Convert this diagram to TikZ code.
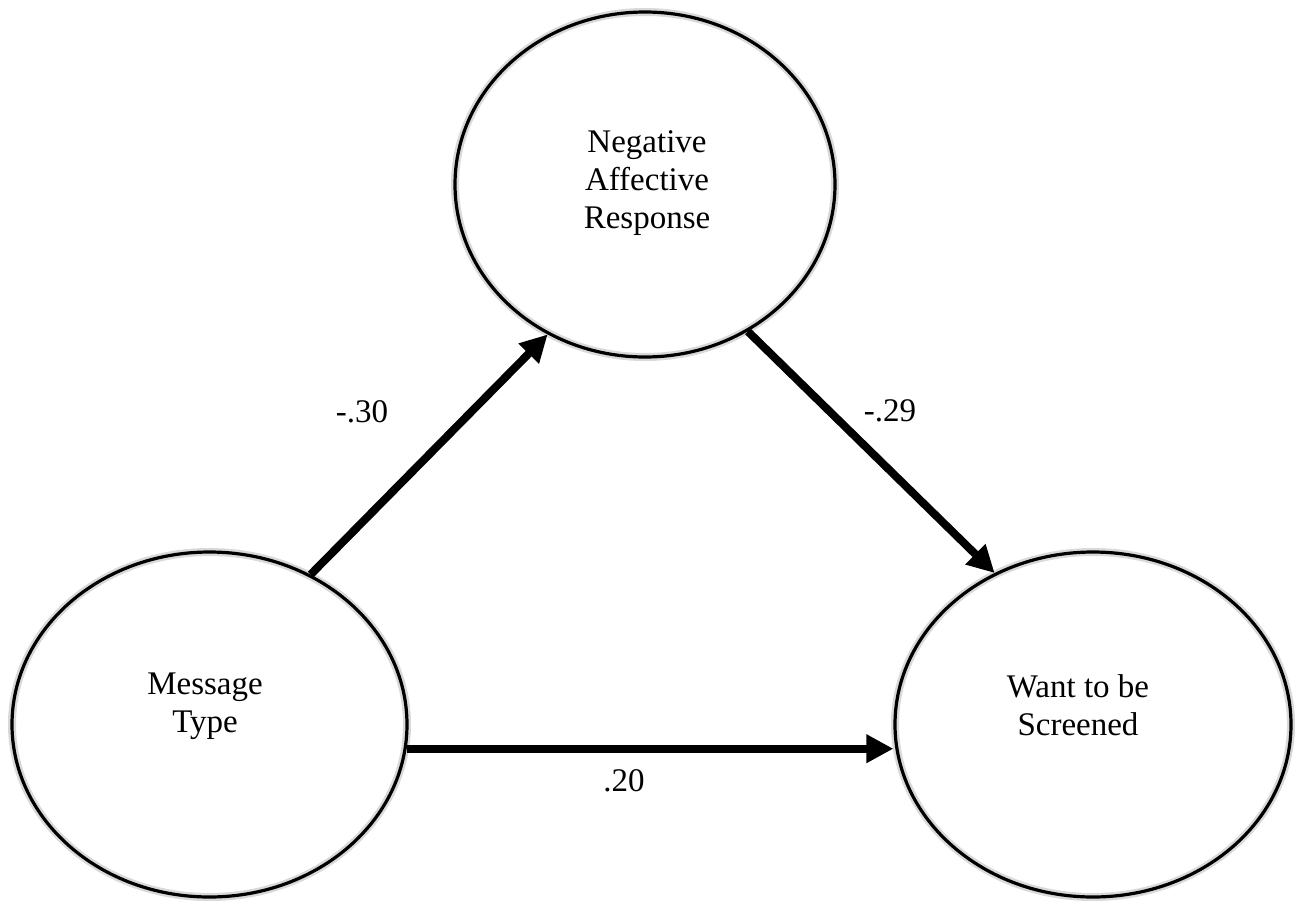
\documentclass[tikz,border=0pt]{standalone}
\usepackage{fontspec}
\setmainfont{Liberation Serif}
\usetikzlibrary{arrows.meta,shapes.geometric}
\begin{document}
\begin{tikzpicture}[x=1pt,y=-1pt,
  latent/.style={ellipse,draw=black,line width=3.2pt,inner sep=0pt,
    preaction={draw=black!15,line width=8pt}},
  vartext/.style={align=center,inner sep=0pt,font=\fontsize{33}{38}\selectfont},
  coef/.style={inner sep=0pt,font=\fontsize{33}{38}\selectfont},
  path/.style={line width=8pt,-{Triangle[length=27pt,width=27pt]}}
]
\useasboundingbox (0,0) rectangle (1298,900);
\node[latent,minimum width=380pt,minimum height=345pt] (neg) at (645,184.5) {};
\node[latent,minimum width=395pt,minimum height=345pt] (msg) at (209.5,724.5) {};
\node[latent,minimum width=396pt,minimum height=345pt] (scr) at (1093,724.5) {};
\node[vartext] (tneg) at (647,183) {Negative\\Affective\\Response};
\node[vartext] (tmsg) at (205,706) {Message\\Type};
\node[vartext] (tscr) at (1078,705) {Want to be\\Screened};
\draw[path] (msg.56) -- (neg.237.7);
\draw[path] (neg.305.8) -- (scr.123.4);
\draw[path] (msg.-7.2) -- (msg.-7.2 -| scr.west);
\node[coef] (c30) at (362,412) {-.30};
\node[coef] (c29) at (890,411) {-.29};
\node[coef] (c20) at (624,781) {.20};
\end{tikzpicture}
\end{document}
